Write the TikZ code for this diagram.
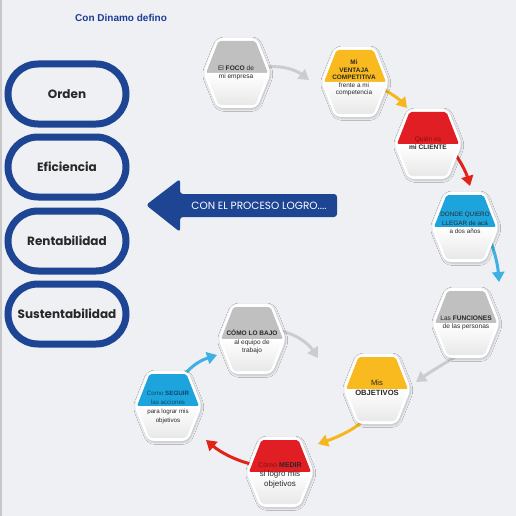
\documentclass[tikz,border=0pt]{standalone}
\usepackage{fontspec}
\setmainfont{Liberation Sans}
\newfontfamily\pop{Poppins}
\usetikzlibrary{arrows.meta,shadows.blur}
\definecolor{bg}{RGB}{238,240,243}
\definecolor{navy}{RGB}{30,69,148}
\definecolor{titleblue}{RGB}{28,60,150}
\definecolor{hgray}{RGB}{192,192,192}
\definecolor{hyel}{RGB}{248,186,30}
\definecolor{hred}{RGB}{224,30,36}
\definecolor{hblue}{RGB}{30,164,220}
\definecolor{agray}{RGB}{204,204,206}
\definecolor{ayel}{RGB}{246,183,30}
\definecolor{ared}{RGB}{226,35,26}
\definecolor{ablue}{RGB}{62,176,226}
\definecolor{dred}{RGB}{125,20,20}
\definecolor{dblue}{RGB}{12,70,110}
\definecolor{txt}{RGB}{40,40,40}
\tikzset{
  pics/hexa/.style={code={
    \fill[white, rounded corners=6, blur shadow={shadow blur steps=6, shadow xshift=0.8pt, shadow yshift=-1.2pt, shadow opacity=22}]
      (-20,-35) -- (20,-35) -- (34,0) -- (20,35) -- (-20,35) -- (-34,0) -- cycle;
    \fill[#1, rounded corners=2] (-18.5,-32) -- (18.5,-32) -- (31,0) -- (-31,0) -- cycle;
    \shade[top color=white, bottom color=black!9, rounded corners=2] (-31,0) -- (31,0) -- (18.5,32) -- (-18.5,32) -- cycle;
  }},
  htext/.style={font=\fontsize{6.6}{8}\selectfont, align=center, text=txt, inner sep=0pt},
  pill/.style={draw=navy, line width=7pt, rounded corners=30pt, minimum width=118pt, minimum height=60pt, font=\pop\bfseries\fontsize{12}{14}\selectfont, text=txt},
  flow/.style={line width=3pt, -{Triangle[length=10pt,width=12pt]}},
}
\begin{document}
\begin{tikzpicture}[x=1pt,y=-1pt]
\fill[bg] (0,0) rectangle (516,516);
\useasboundingbox (0,0) rectangle (516,516);
\draw[black!22, line width=1.5pt] (1,0) -- (1,516);

\node[anchor=west, text=titleblue, font=\bfseries\fontsize{10}{12}\selectfont, inner sep=0pt] (title) at (75,18) {Con Dinamo defino};

\node[pill] (p1) at (67,94) {Orden};
\node[pill] (p2) at (67,167) {Eficiencia};
\node[pill] (p3) at (67,241) {Rentabilidad};
\node[pill] (p4) at (67,314) {Sustentabilidad};

\fill[navy, rounded corners=3] (146,205) -- (180,179) -- (180,194) -- (337,194) -- (337,217) -- (180,217) -- (180,232) -- cycle;
\node[text=white, font=\pop\fontsize{10.5}{12}\selectfont, inner sep=0pt] (big) at (259,206) {CON EL PROCESO LOGRO....};

\coordinate (h1) at (237,73);
\coordinate (h2) at (355,82);
\coordinate (h3) at (428,144);
\coordinate (h4) at (465,227);
\coordinate (h5) at (466,323);
\coordinate (h6) at (377,389);
\coordinate (h7) at (280,472);
\coordinate (h8) at (168,406);
\coordinate (h9) at (252,339);

\coordinate (a1s) at (262,68);  \coordinate (a1e) at (309,80);
\coordinate (a2s) at (380,88);  \coordinate (a2e) at (407,108);
\coordinate (a3s) at (452,150); \coordinate (a3e) at (470,186);
\coordinate (a4s) at (490,240); \coordinate (a4e) at (499,282);
\coordinate (a5s) at (470,348); \coordinate (a5e) at (416,382);
\coordinate (a6s) at (366,418); \coordinate (a6e) at (318,444);
\coordinate (a7s) at (256,465); \coordinate (a7e) at (206,440);
\coordinate (a8s) at (176,392); \coordinate (a8e) at (217,355);
\coordinate (a9s) at (276,330); \coordinate (a9e) at (318,358);

\draw[flow, agray] (a1s) .. controls (280,64) and (296,70) .. (a1e);
\draw[flow, ayel] (a2s) .. controls (390,92) and (400,100) .. (a2e);
\draw[flow, ared] (a3s) .. controls (460,160) and (466,172) .. (a3e);
\draw[flow, ablue] (a4s) .. controls (496,255) and (498,268) .. (a4e);
\draw[flow, agray] (a5s) .. controls (450,360) and (430,372) .. (a5e);
\draw[flow, ayel] (a6s) .. controls (355,430) and (335,438) .. (a6e);
\draw[flow, ared] (a7s) .. controls (238,462) and (220,452) .. (a7e);
\draw[flow, ablue] (a8s) .. controls (180,375) and (195,362) .. (a8e);
\draw[flow, agray] (a9s) .. controls (295,333) and (308,343) .. (a9e);

\pic at (h1) {hexa=hgray};
\pic at (h2) {hexa=hyel};
\pic at (h3) {hexa=hred};
\pic at (h4) {hexa=hblue};
\pic at (h5) {hexa=hgray};
\pic at (h6) {hexa=hyel};
\pic at (h7) {hexa=hred};
\pic at (h8) {hexa=hblue};
\pic at (h9) {hexa=hgray};

\node[htext] (t1) at (236,73) {El \textbf{FOCO} de\\mi empresa};
\node[htext, font=\fontsize{6.4}{7.6}\selectfont] (t2) at (354,78) {\textbf{Mi}\\\textbf{VENTAJA}\\\textbf{COMPETITIVA}\\frente a mi\\competencia};
\node[htext] (t3) at (428,143) {{\color{dred}Quién es}\\\textbf{mi CLIENTE}};
\node[htext, font=\fontsize{6.3}{8.4}\selectfont] (t4) at (465,223) {DONDE QUIERO\\LLEGAR de acá\\a dos años};
\node[htext] (t5) at (466,323) {Las \textbf{FUNCIONES}\\de las personas};
\node[htext, font=\fontsize{7.6}{9.5}\selectfont] (t6) at (377,388) {Mis\\\textbf{OBJETIVOS}};
\node[htext, font=\fontsize{8}{9.5}\selectfont] (t7) at (280,475) {{\color{dred}\fontsize{7}{9.5}\selectfont Cómo} {\fontsize{7}{9.5}\selectfont\textbf{MEDIR}}\\si logro mis\\objetivos};
\node[htext, font=\fontsize{6.2}{9}\selectfont] (t8) at (168,407) {{\color{dblue}Como \textbf{SEGUIR}}\\{\color{dblue}las acciones}\\para lograr mis\\objetivos};
\node[htext, font=\fontsize{6.5}{8.5}\selectfont] (t9) at (252,342) {\textbf{CÓMO LO BAJO}\\al equipo de\\trabajo};
\end{tikzpicture}
\end{document}
